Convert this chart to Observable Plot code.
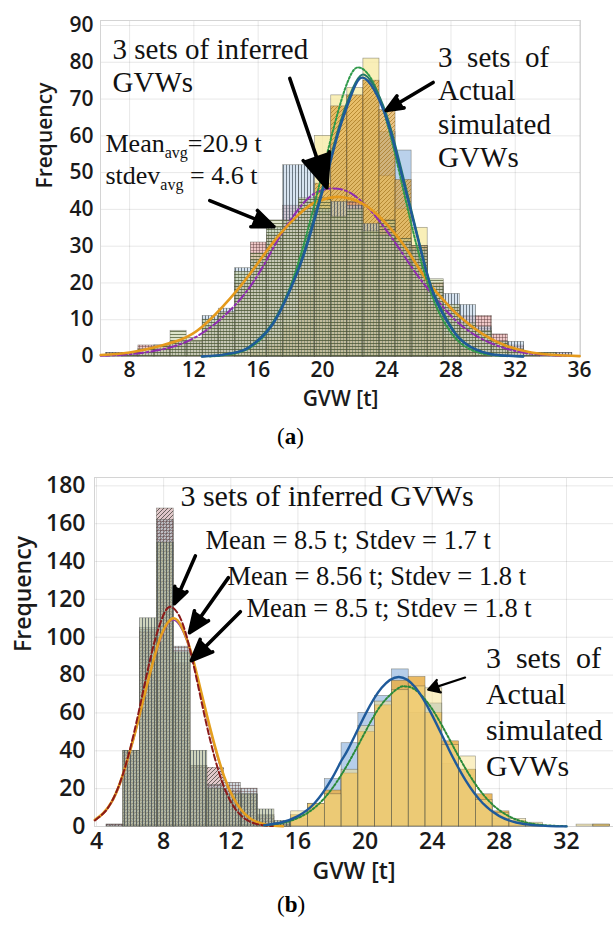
<!DOCTYPE html>
<html><head><meta charset="utf-8">
<script src="https://cdn.jsdelivr.net/npm/d3@7"></script>
<script src="https://cdn.jsdelivr.net/npm/@observablehq/plot@0.6"></script>
<style>
body{margin:0;background:#fff;}
#wrap{position:relative;width:613px;height:932px;overflow:hidden;background:#fff;}
#pa{position:absolute;left:0;top:0;}
#pb{position:absolute;left:0;top:460px;}
.cap{position:absolute;font-family:"Liberation Serif","Times New Roman",serif;font-size:23px;color:#000;line-height:26px;}
</style></head>
<body>
<svg width="0" height="0" style="position:absolute"><defs>
<pattern id="pv" width="3" height="3" patternUnits="userSpaceOnUse"><path d="M1.5,0V3" stroke="#3d4a56" stroke-width="0.7"/></pattern>
<pattern id="ph" width="3" height="3" patternUnits="userSpaceOnUse"><path d="M0,1.5H3" stroke="#45502a" stroke-width="0.7"/></pattern>
<pattern id="pg" width="3" height="3" patternUnits="userSpaceOnUse"><path d="M0,1.5H3M1.5,0V3" stroke="#5a3a3a" stroke-width="0.45"/></pattern>
<pattern id="pd" width="4" height="4" patternUnits="userSpaceOnUse"><path d="M-1,1L1,-1M0,4L4,0M3,5L5,3" stroke="#9a6a10" stroke-width="0.6"/></pattern>
<pattern id="pd2" width="4" height="4" patternUnits="userSpaceOnUse"><path d="M-1,1L1,-1M0,4L4,0M3,5L5,3" stroke="#2a2a24" stroke-width="0.65"/></pattern>
</defs></svg>
<div id="wrap">
  <div id="pa"></div>
  <div id="pb"></div>
  <div class="cap" style="left:277px;top:424px">(<b>a</b>)</div>
  <div class="cap" style="left:277px;top:892px">(<b>b</b>)</div>
</div>
<script>
// ---------- Panel (a) data ----------
const aBinStart = [6.55,7.55,8.55,9.55,10.55,11.55,12.55,13.55,14.55,15.55,16.55,17.55,18.55,19.55,20.55,21.55,22.55,23.55,24.55,25.55,26.55,27.55,28.55,29.55,30.55,31.55,32.55,33.55,34.55];
const binWidth = 1;
const aInfPink   = [1,1,3,3,4,4,8,12,20,31,33,41,42,39,37,42,33,35,31,30,20,13,11,11,6,3,1,0,1];
const aInfBlue   = [1,1,1,2,4,4,11,13,24,26,35,52,52,40,42,41,36,33,31,29,19,17,14,8,4,4,1,1,1];
const aInfGreen  = [0,1,2,3,7,5,10,12,23,28,37,37,43,43,38,40,34,37,32,30,21,14,9,7,4,2,1,1,0];
const aActBlue   = [0,0,0,0,0,0,0,0,0,1,3,7,16,40,58,64,70,61,56,28,12,5,2,1,0,0,0,0,0];
const aActYellow = [0,0,0,0,0,0,0,0,1,2,5,11,22,60,71,73,81,49,40,35,13,6,2,1,0,0,0,0,0];
const aActOrange = [0,0,0,0,0,0,0,0,0,1,3,8,17,47,68,71,75,67,48,30,14,5,2,0,0,0,0,0,0];
const aXTicks = [8,12,16,20,24,28,32,36];
const aYTicks = [0,10,20,30,40,50,60,70,80,90];
// fitted curves: [GVW, frequency]
const aCurveInfOrange = [[6.2,0.4],[8,1.1],[10,3],[11.2,4.6],[12.5,8],[14.3,16],[15.5,22.5],[16.5,28.5],[17.4,33.5],[18.5,38.5],[19.5,41.8],[20.5,43.2],[21.3,43.3],[22.3,42],[23.3,39],[24.3,34.5],[25.3,28.8],[26.45,21],[27.5,15.5],[28.5,11],[30,6],[31.5,2.8],[33,1.1],[34.5,0.4],[36,0.1]];
const aCurveInfPurple = [[6.2,0.2],[8,0.6],[10,1.9],[12,5],[14,11.5],[15.5,19],[16.5,26],[17.4,33],[18.5,40],[19.5,44.3],[20.6,45.7],[21.6,44.8],[22.6,41.5],[23.6,36.5],[24.6,30.5],[25.6,24],[26.45,19],[27.5,13.5],[28.5,9],[30,4.6],[32,1.5],[34,0.4],[36,0.1]];
const aCurveActBlue = [[12.5,0],[13.5,0.3],[14.5,1],[15.4,2.4],[16.5,6.5],[17.4,12.5],[18.5,23.5],[19.3,34],[20.2,48],[21,61],[21.7,70],[22.3,75.5],[23,74],[23.8,67],[24.5,57],[25.3,43],[26,31],[26.5,22.5],[27,16],[27.7,10],[28.5,5],[29.5,2],[30.5,0.6],[31.5,0.2],[32.5,0]];
const aCurveActTeal = [[12.5,0],[13.5,0.3],[14.5,1],[15.4,2.5],[16.5,6.8],[17.4,13],[18.5,24],[19.3,35],[20.2,49],[21,62],[21.7,71],[22.35,76.3],[23,75],[23.8,68],[24.5,58],[25.3,44],[26,31.5],[26.5,23],[27,16.5],[27.7,10.5],[28.5,5.2],[29.5,2],[30.5,0.6],[31.5,0.2],[32.5,0]];
const aCurveActGreen = [[13,0],[14,0.4],[15,1.4],[16,4],[17,9.5],[18,19],[19,33],[20,50],[21,67],[21.7,76],[22.2,78.6],[22.8,77],[23.5,71],[24.3,59],[25,46],[25.7,33],[26.3,23.5],[27,14.5],[27.7,8.5],[28.5,4],[29.5,1.4],[30.5,0.4],[31.5,0.1]];
const aArrows = [
  {x1:17.97,y1:75.6,x2:20.28,y2:45.9},
  {x1:26.89,y1:74.5,x2:23.96,y2:66.9},
  {x1:12.99,y1:42.4,x2:16.98,y2:35.3}
];
const aLabels = [
  {x:6.94, y:71.8, t:"3 sets of inferred\nGVWs"},
  {x:27.2, y:51.4, t:"3\u00a0\u00a0sets\u00a0\u00a0of\nActual\nsimulated\nGVWs"}
];
const aStats = [
  {x:6.5, y:55.5, t:"Mean_avg=20.9 t"},
  {x:6.5, y:47.0, t:"stdev_avg = 4.6 t"}
];

// ---------- Panel (b) data ----------
const bBinStart = [4.6,5.6,6.6,7.6,8.6,9.6,10.6,11.6,12.6,13.6,14.6,15.6,16.6,17.6,18.6,19.6,20.6,21.6,22.6,23.6,24.6,25.6,26.6,27.6,28.6,29.6,30.6,31.6,32.6,33.6];
const bInfPink   = [1,40,103,168,86,32,31,19,17,5,1,0,0,0,0,0,0,0,0,0,0,0,0,0,0,0,0,0,0,0];
const bInfBlue   = [1,40,105,162,95,32,22,23,20,6,2,0,0,0,0,0,0,0,0,0,0,0,0,0,0,0,0,0,0,0];
const bInfGreen  = [0,40,110,150,92,40,20,17,17,9,3,0,0,0,0,0,0,0,0,0,0,0,0,0,0,0,0,0,0,0];
const bActBlue   = [0,0,0,0,0,0,0,0,0,0,1,4,10,25,44,60,69,83,60,65,33,30,12,4,2,1,0,0,0,0];
const bActOrange = [0,0,0,0,0,0,0,0,0,0,1,6,12,19,28,50,64,77,79,60,45,30,17,8,3,1,0,0,0,1];
const bActYellow = [0,0,0,0,0,0,0,0,0,0,2,8,12,17,30,53,66,72,74,73,43,37,14,7,4,2,0,0,1,1];
const bXTicks = [4,8,12,16,20,24,28,32];
const bYTicks = [0,20,40,60,80,100,120,140,160,180];
const bCurveInfOrange = [[3.9,3.5],[4.4,7],[4.9,13],[5.4,23],[5.9,37],[6.4,53],[6.9,71],[7.4,88],[7.9,102],[8.56,110],[9.1,105],[9.6,93],[10.1,76],[10.6,58],[11.1,41],[11.6,26.5],[12.1,16],[12.6,9],[13.1,4.6],[13.6,2.2],[14.1,1],[14.6,0.4],[15.1,0.1]];
const bCurveInfPurple = [[3.9,3.3],[4.4,6.8],[4.9,12.6],[5.4,22.5],[5.9,36.5],[6.4,52.5],[6.9,70.5],[7.4,87.5],[7.9,101],[8.5,109],[9.1,104],[9.6,92],[10.1,75],[10.6,57],[11.1,40],[11.6,26],[12.1,15.5],[12.6,8.7],[13.1,4.4],[13.6,2.1],[14.1,0.9],[14.6,0.35],[15.1,0.1]];
const bCurveInfRed = [[3.9,3.2],[4.5,7.8],[5,14.8],[5.5,25.7],[6,41],[6.5,60],[7,80.6],[7.5,99],[8,112],[8.45,116],[9,110],[9.5,96],[10,76.5],[10.5,56],[11,37.7],[11.5,23.2],[12,13.1],[12.5,6.8],[13,3.2],[13.5,1.4],[14,0.6],[14.5,0.2]];
const bCurveActBlue = [[14,0.7],[15,2.1],[16,5.5],[17,12.4],[18,25],[18.6,35],[19,41],[20,59],[21,73.4],[22,79],[23,73.4],[24,58.7],[25,40.6],[26,24.2],[27,12.4],[28,5.5],[29,2.1],[30,0.7],[31,0.2],[32,0.05]];
const bCurveActGreen = [[14,0.6],[15,1.7],[16,4.5],[17,10],[18,19.6],[19,33.5],[20,49.8],[21,64.7],[22,73.2],[22.4,74],[23,72.2],[24,62],[25,46.5],[26,30.4],[27,17.3],[28,8.6],[29,3.7],[30,1.4],[31,0.5],[32,0.15]];
const bArrowsThick = [
  {x1:9.89,y1:143,x2:8.64,y2:117.7},
  {x1:11.86,y1:131.5,x2:9.54,y2:102.4},
  {x1:12.57,y1:113.5,x2:9.65,y2:87.6}
];
const bArrowsThin = [{x1:25.96,y1:78.7,x2:23.76,y2:72.3}];
const bLabels = [
  {x:9.0, y:169.5, t:"3 sets of inferred GVWs"},
  {x:27.2, y:26.9, t:"3\u00a0\u00a0sets\u00a0\u00a0of\nActual\nsimulated\nGVWs"}
];
const bStats = [
  {x:10.49, y:146.8, t:"Mean = 8.5 t; Stdev = 1.7 t"},
  {x:11.8, y:127.8, t:"Mean = 8.56 t; Stdev = 1.8 t"},
  {x:12.93, y:110.6, t:"Mean = 8.5 t; Stdev = 1.8 t"}
];

// ---------- helpers ----------
const rows = (starts, vals) => starts.map((s,i)=>({x1:s, x2:s+binWidth, y:vals[i]})).filter(d=>d.y>0);
function hist(starts, vals, color, op, pattern){
  const data = rows(starts, vals);
  const m = [Plot.rect(data, {x1:"x1", x2:"x2", y1:0, y2:"y", fill:color, fillOpacity:op, stroke:"#4a4a40", strokeOpacity:0.6, strokeWidth:0.6})];
  if (pattern) m.push(Plot.rect(data, {x1:"x1", x2:"x2", y1:0, y2:"y", fill:`url(#${pattern})`}));
  return m;
}
const curve = (pts, stroke, w, dash) => Plot.line(pts, {x:d=>d[0], y:d=>d[1], curve:"natural", stroke, strokeWidth:w, strokeDasharray:dash||null});
const serif = "'Liberation Serif','Times New Roman',serif";
const sans = "'Open Sans',sans-serif";
function subscripts(svg){
  svg.querySelectorAll("text").forEach(t=>{
    if (t.children.length===0 && t.textContent.includes("_avg")){
      const [pre, post] = t.textContent.split("_avg");
      t.textContent = "";
      t.append(pre);
      const s = document.createElementNS("http://www.w3.org/2000/svg","tspan");
      s.setAttribute("font-size","16"); s.setAttribute("dy","6"); s.textContent = "avg";
      const r = document.createElementNS("http://www.w3.org/2000/svg","tspan");
      r.setAttribute("dy","-6"); r.textContent = post;
      t.append(s, r);
    }
  });
}
function fillHeads(svg){
  svg.querySelectorAll('g[aria-label="arrow"] path').forEach(p=>{
    p.setAttribute("fill","#000");
    p.setAttribute("stroke-linejoin","miter");
  });
}
const styleA = {fontFamily:sans, fontSize:"21px", fontWeight:600, color:"#1a1a1a", background:"transparent", overflow:"visible"};
const styleB = {fontFamily:sans, fontSize:"23px", fontWeight:600, color:"#1a1a1a", background:"transparent", overflow:"visible"};

// ---------- Panel (a) ----------
const chartA = Plot.plot({
  width:613, height:420,
  marginLeft:100, marginRight:33, marginTop:20, marginBottom:64,
  style: styleA,
  x:{domain:[6.19,36.06], ticks:aXTicks, tickSize:0, tickPadding:6, label:null, grid:true},
  y:{domain:[0,91.36], ticks:aYTicks, tickSize:0, tickPadding:7, label:null, grid:true},
  marks:[
    Plot.frame({stroke:"#d4d4d4"}),
    ...hist(aBinStart, aActBlue, "#a9c5e6", 0.8),
    ...hist(aBinStart, aActYellow, "#f7e89a", 0.7),
    ...hist(aBinStart, aActOrange, "#dd9f38", 0.62, "pd"),
    ...hist(aBinStart, aInfPink, "#e08f8f", 0.48, "pg"),
    ...hist(aBinStart, aInfBlue, "#aec6e0", 0.48, "pv"),
    ...hist(aBinStart, aInfGreen, "#bcc690", 0.48, "ph"),
    curve(aCurveInfPurple, "#8e2bb0", 2, "9,3,2,3"),
    curve(aCurveInfOrange, "#e59a1c", 2.6),
    curve(aCurveActGreen, "#2f9a4a", 2, "2,2"),
    curve(aCurveActTeal, "#24786a", 2),
    curve(aCurveActBlue, "#1f5a9a", 2.4),
    Plot.arrow(aArrows, {x1:"x1", y1:"y1", x2:"x2", y2:"y2", stroke:"#000", strokeWidth:3.6, headLength:15, headAngle:45}),
    Plot.text(aLabels, {x:"x", y:"y", text:"t", textAnchor:"start", lineAnchor:"bottom", lineHeight:1.16, fontSize:29, fontFamily:serif, fontWeight:"normal", fill:"#111"}),
    Plot.text(aStats, {x:"x", y:"y", text:"t", textAnchor:"start", lineAnchor:"bottom", fontSize:26, fontFamily:serif, fontWeight:"normal", fill:"#111"}),
    Plot.text(["Frequency"], {text:d=>d, frameAnchor:"left", dx:-55, rotate:-90, fontSize:21, fontWeight:600, fontFamily:sans, fill:"#1a1a1a"}),
    Plot.text(["GVW [t]"], {text:d=>d, frameAnchor:"bottom", dy:49, fontSize:21, fontWeight:600, fontFamily:sans, fill:"#1a1a1a"})
  ]
});
subscripts(chartA);
fillHeads(chartA);
document.getElementById("pa").append(chartA);

// ---------- Panel (b) ----------
const chartB = Plot.plot({
  width:613, height:420,
  marginLeft:94, marginRight:0, marginTop:17, marginBottom:54,
  style: styleB,
  x:{domain:[3.88,34.8], ticks:bXTicks, tickSize:0, tickPadding:6, label:null, grid:true},
  y:{domain:[0,184.4], ticks:bYTicks, tickSize:0, tickPadding:9, label:null, grid:true},
  marks:[
    Plot.frame({stroke:"#d4d4d4"}),
    ...hist(bBinStart, bActBlue, "#a9c5e6", 0.85),
    ...hist(bBinStart, bActOrange, "#e8b04c", 0.88),
    ...hist(bBinStart, bActYellow, "#f6df8a", 0.5),
    ...hist(bBinStart, bInfPink, "#c99a9e", 0.55, "pd2"),
    ...hist(bBinStart, bInfBlue, "#a3b6c0", 0.5, "pg"),
    ...hist(bBinStart, bInfGreen, "#aab388", 0.55, "pv"),
    curve(bCurveInfPurple, "#8a3ab0", 1.6),
    curve(bCurveInfOrange, "#e5a01e", 2.6),
    curve(bCurveInfRed, "#8b1a1a", 2, "6,3"),
    curve(bCurveActGreen, "#2a8a3a", 2, "2,2"),
    curve(bCurveActBlue, "#1f5a9a", 2.4),
    Plot.arrow(bArrowsThick, {x1:"x1", y1:"y1", x2:"x2", y2:"y2", stroke:"#000", strokeWidth:3.6, headLength:15, headAngle:45}),
    Plot.arrow(bArrowsThin, {x1:"x1", y1:"y1", x2:"x2", y2:"y2", stroke:"#000", strokeWidth:2.2, headLength:16, headAngle:60}),
    Plot.text(bLabels, {x:"x", y:"y", text:"t", textAnchor:"start", lineAnchor:"bottom", lineHeight:1.2, fontSize:30, fontFamily:serif, fontWeight:"normal", fill:"#111"}),
    Plot.text(bStats, {x:"x", y:"y", text:"t", textAnchor:"start", lineAnchor:"bottom", fontSize:26.5, fontFamily:serif, fontWeight:"normal", fill:"#111"}),
    Plot.text(["Frequency"], {text:d=>d, frameAnchor:"left", dx:-71, rotate:-90, fontSize:23, fontWeight:600, fontFamily:sans, fill:"#1a1a1a"}),
    Plot.text(["GVW [t]"], {text:d=>d, frameAnchor:"bottom", dy:52, fontSize:23, fontWeight:600, fontFamily:sans, fill:"#1a1a1a"})
  ]
});
fillHeads(chartB);
document.getElementById("pb").append(chartB);
</script>
</body></html>
